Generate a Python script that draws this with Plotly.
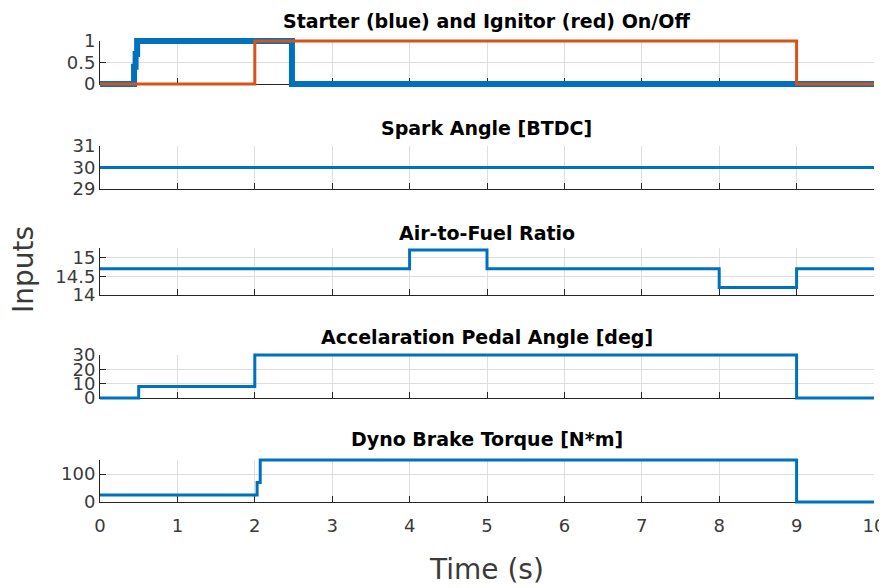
import plotly.graph_objects as go

# ---- data (step signals: value holds until next time) ----
starter_t = [0, 0.44, 0.46, 0.48, 2.48, 10]
starter_v = [0, 0.4, 0.7, 1, 0, 0]
ignitor_t = [0, 2.0, 9.0, 10]
ignitor_v = [0, 1, 0, 0]
spark_t = [0, 10]
spark_v = [30, 30]
afr_t = [0, 4, 5, 8, 9, 10]
afr_v = [14.7, 15.2, 14.7, 14.2, 14.7, 14.7]
pedal_t = [0, 0.5, 2, 9, 10]
pedal_v = [0, 8, 30, 0, 0]
torque_t = [0, 2.03, 2.07, 9, 10]
torque_v = [25, 70, 150, 0, 0]

titles = ["Starter (blue) and Ignitor (red) On/Off", "Spark Angle [BTDC]",
          "Air-to-Fuel Ratio", "Accelaration Pedal Angle [deg]", "Dyno Brake Torque [N*m]"]
x_ticks = list(range(0, 11))
y_ticks = [[0, 0.5, 1], [29, 30, 31], [14, 14.5, 15], [0, 10, 20, 30], [0, 100]]
y_ranges = [[0, 1], [29, 31], [14, 15.25], [0, 30], [0, 150]]

BLUE = "#0072BD"
RED = "#D95319"
AX = "#262626"
TXT = "#3a3a3a"
GRID = "#dedede"
FONT = "DejaVu Sans, sans-serif"

# page has an 8px body margin; figure sized to fill the remaining window
OFF = 8
W, H = 887 - OFF, 588 - OFF


def fx(p):
    return (p - OFF) / W


def fy(p):
    return 1 - (p - OFF) / H


# pixel positions of axes (top, bottom) in window coordinates
boxes = [(41, 84), (146, 189), (248, 295), (355, 398), (460, 502)]
title_y = [21, 128, 233, 337, 439]
x0, x1 = 100, 874
PAD = 6  # extra px so lines sitting on an axis edge are not clipped

series = [
    [(starter_t, starter_v, BLUE, 6), (ignitor_t, ignitor_v, RED, 3)],
    [(spark_t, spark_v, BLUE, 3)],
    [(afr_t, afr_v, BLUE, 3)],
    [(pedal_t, pedal_v, BLUE, 3)],
    [(torque_t, torque_v, BLUE, 3)],
]

fig = go.Figure()
layout = {}
# decorative subplots (ticks, grid, axis lines) — registered with empty traces
for i in range(5):
    n = i + 1
    sfx = "" if n == 1 else str(n)
    fig.add_trace(go.Scatter(x=[], y=[], mode="lines", xaxis=f"x{sfx}", yaxis=f"y{sfx}",
                             hoverinfo="skip"))

for i in range(5):
    top, bot = boxes[i]
    n = i + 1
    m = i + 6
    sfx = "" if n == 1 else str(n)
    layout[f"xaxis{sfx}"] = dict(
        domain=[fx(x0), fx(x1)], range=[0, 10], tickvals=x_ticks, automargin=False,
        anchor=f"y{sfx}", showticklabels=(i == 4), ticks="inside", ticklen=6,
        tickcolor=AX, tickwidth=1, showline=True, linecolor=AX, linewidth=1,
        showgrid=True, gridcolor=GRID, zeroline=False, fixedrange=True,
        tickfont=dict(family=FONT, size=18, color=TXT), ticklabelstandoff=7)
    layout[f"yaxis{sfx}"] = dict(
        domain=[fy(bot), fy(top)], range=y_ranges[i], tickvals=y_ticks[i],
        anchor=f"x{sfx}", automargin=False, ticks="inside", ticklen=6, tickcolor=AX,
        tickwidth=1, showline=True, linecolor=AX, linewidth=1, showgrid=True,
        gridcolor=GRID, zeroline=False, fixedrange=True,
        tickfont=dict(family=FONT, size=18, color=TXT), ticklabelstandoff=0)
    # data axes: same scale, slightly taller plot area so edge lines show fully
    lo, hi = y_ranges[i]
    u = (hi - lo) / (bot - top)
    layout[f"xaxis{m}"] = dict(domain=[fx(x0), fx(x1)], range=[0, 10], visible=False,
                               anchor=f"y{m}", fixedrange=True)
    layout[f"yaxis{m}"] = dict(domain=[fy(bot + PAD), fy(top - PAD)],
                               range=[lo - PAD * u, hi + PAD * u], visible=False,
                               anchor=f"x{m}", fixedrange=True)
    for t, v, c, w in series[i]:
        fig.add_trace(go.Scatter(x=t, y=v, mode="lines", line_shape="hv",
                                 line=dict(color=c, width=w), xaxis=f"x{m}", yaxis=f"y{m}",
                                 hoverinfo="skip"))
    fig.add_annotation(text=f"<b>{titles[i]}</b>", xref="paper", yref="paper",
                       x=fx((x0 + x1) / 2), y=fy(title_y[i]), xanchor="center",
                       yanchor="middle", showarrow=False,
                       font=dict(family=FONT, size=19, color="#000000"))

fig.add_annotation(text="Inputs", xref="paper", yref="paper", x=fx(23), y=fy(270),
                   textangle=-90, showarrow=False, xanchor="center", yanchor="middle",
                   font=dict(family=FONT, size=28, color=TXT))
fig.add_annotation(text="Time (s)", xref="paper", yref="paper", x=fx((x0 + x1) / 2),
                   y=fy(569), showarrow=False, xanchor="center", yanchor="middle",
                   font=dict(family=FONT, size=28, color=TXT))

fig.update_layout(**layout)
fig.update_layout(width=W, height=H, margin=dict(l=0, r=0, t=0, b=0),
                  paper_bgcolor="white", plot_bgcolor="rgba(0,0,0,0)", showlegend=False,
                  template="none")

fig.write_html("out.html")
